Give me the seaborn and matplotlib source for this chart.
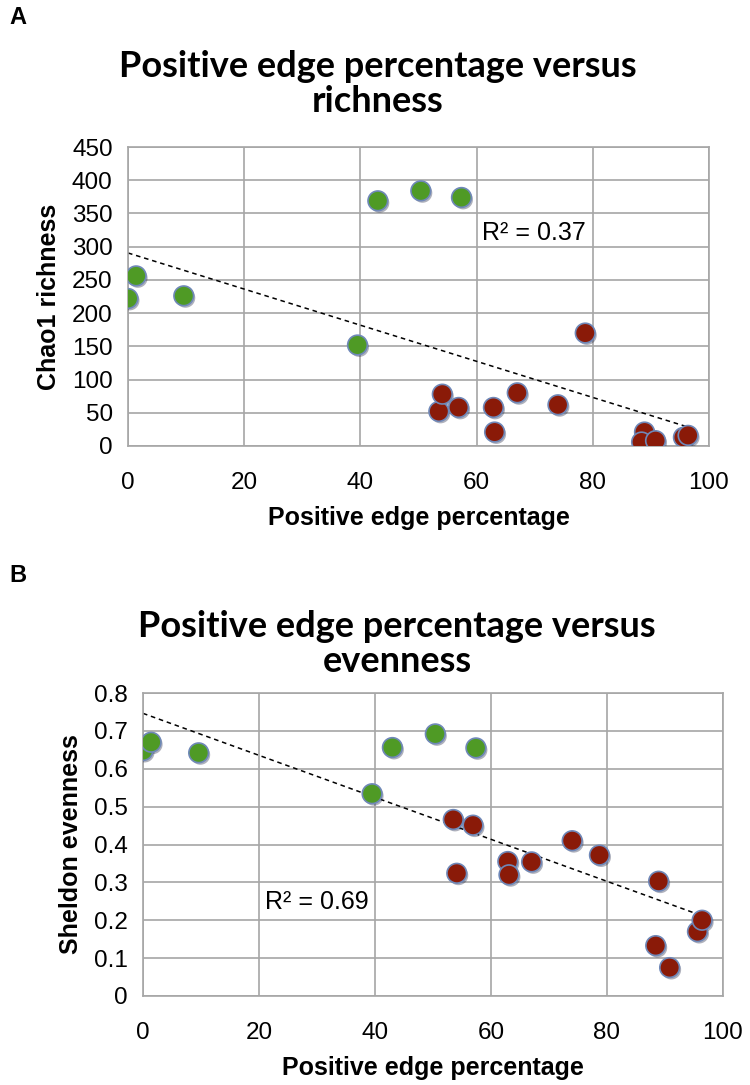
import numpy as np
import pandas as pd
import seaborn as sns
import matplotlib.pyplot as plt
import matplotlib.patheffects as pe

# positive edge percentage per sample (same samples in both panels)
pos_edge_pct = [0.0, 1.4, 9.6, 39.5, 43.0, 50.4, 57.4,
                53.5, 54.1, 56.9, 62.9, 63.1, 67.0, 74.0, 78.7,
                88.9, 88.4, 90.8, 95.6, 96.4]
chao1 = [222, 256, 226, 152, 369, 384, 374,
         52, 78, 58, 58, 21, 80, 62, 170,
         21, 6, 8, 13, 16]
sheldon = [0.648, 0.670, 0.642, 0.534, 0.656, 0.692, 0.655,
           0.466, 0.324, 0.451, 0.355, 0.320, 0.354, 0.410, 0.372,
           0.303, 0.133, 0.075, 0.170, 0.200]
group = ['green'] * 7 + ['red'] * 13

r2_labels = ['R² = 0.37', 'R² = 0.69']
titles = ['Positive edge percentage versus\nrichness',
          'Positive edge percentage versus\nevenness']
ylabels = ['Chao1 richness', 'Sheldon evenness']
panel_tags = ['A', 'B']

df = pd.DataFrame({'pct': pos_edge_pct, 'chao1': chao1,
                   'sheldon': sheldon, 'group': group})

sns.set_style('white')
plt.rcParams['font.family'] = ['Liberation Sans', 'DejaVu Sans']
for key in ['text.color', 'axes.labelcolor', 'xtick.color', 'ytick.color']:
    plt.rcParams[key] = 'black'

palette = {'green': '#4f9a25', 'red': '#8a1a08'}
grid_col = '#a6a6a6'
bold_sans = ['Liberation Sans', 'DejaVu Sans']

fig = plt.figure(figsize=(7.5, 10.85), dpi=100)
ax_a = fig.add_axes([128 / 750, 1 - 446 / 1085, 581 / 750, 299 / 1085])
ax_b = fig.add_axes([143 / 750, 1 - 996 / 1085, 580 / 750, 303 / 1085])


def draw_panel(ax, ycol, ylim, ystep, fmt, r2_text, r2_pos, title, ylabel, tag,
               tag_y, title_y, title_x):
    sns.regplot(data=df, x='pct', y=ycol, ax=ax, scatter=False, ci=None,
                line_kws={'color': 'black', 'lw': 1.1, 'ls': (0, (3, 2.5))})
    sns.scatterplot(data=df, x='pct', y=ycol, hue='group', palette=palette,
                    s=200, edgecolor='#6f88b8', linewidth=1.2, legend=False,
                    ax=ax, zorder=3)
    for coll in ax.collections:
        coll.set_path_effects([pe.SimplePatchShadow(offset=(1.2, -1.5), alpha=0.35,
                                                    shadow_rgbFace='#1a2040'),
                               pe.Normal()])
    ax.set_xlim(0, 100)
    ax.set_ylim(*ylim)
    ax.set_xticks(np.arange(0, 101, 20))
    ax.set_yticks(np.arange(ylim[0], ylim[1] + ystep / 2, ystep))
    ax.yaxis.set_major_formatter(plt.FuncFormatter(fmt))
    ax.grid(True, color=grid_col, lw=1.2)
    for side in ax.spines.values():
        side.set_color(grid_col)
        side.set_linewidth(1.2)
    ax.tick_params(axis='both', direction='out', length=7, width=1.2,
                   color=grid_col, labelsize=17.5, pad=4)
    ax.tick_params(axis='x', pad=12)
    ax.set_axisbelow(True)
    ax.set_xlabel('Positive edge percentage', fontsize=18, fontweight='bold',
                  family=bold_sans, labelpad=8)
    ax.set_ylabel(ylabel, fontsize=18, fontweight='bold',
                  family=bold_sans, labelpad=8)
    ax.text(r2_pos[0], r2_pos[1], r2_text, fontsize=18, ha='left', va='center')
    fig.text(title_x, title_y, title, ha='center', va='center',
             fontsize=26, fontweight='bold', family=['Lato', 'DejaVu Sans'],
             linespacing=1.1)
    fig.text(0.012, tag_y, tag, ha='left', va='center', fontsize=17,
             fontweight='bold', family=bold_sans)


draw_panel(ax_a, 'chao1', (0, 450), 50, lambda v, p: f'{v:.0f}',
           r2_labels[0], (61, 320), titles[0], ylabels[0], panel_tags[0],
           1 - 18 / 1085, 1 - 84 / 1085, 378 / 750)
draw_panel(ax_b, 'sheldon', (0, 0.8), 0.1, lambda v, p: '0' if v == 0 else f'{v:.1f}',
           r2_labels[1], (21, 0.249), titles[1], ylabels[1], panel_tags[1],
           1 - 576 / 1085, 1 - 644 / 1085, 397 / 750)

fig.savefig('out.png', dpi=100)
